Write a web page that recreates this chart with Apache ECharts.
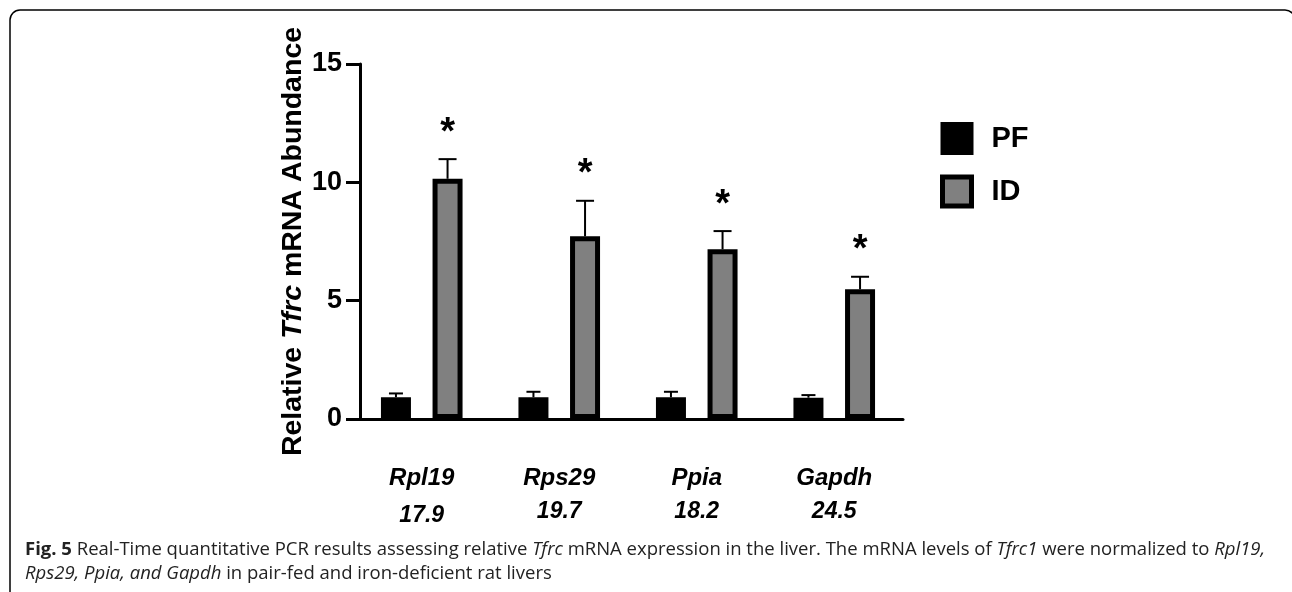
<!DOCTYPE html>
<html>
<head>
<meta charset="utf-8">
<script src="https://cdn.jsdelivr.net/npm/echarts@6/dist/echarts.min.js"></script>
<style>
html,body{margin:0;padding:0;background:#fff;}
#chart{width:1292px;height:592px;}
</style>
</head>
<body>
<div id="chart"></div>
<script>
// ---- data ----
const categories = ['Rpl19', 'Rps29', 'Ppia', 'Gapdh'];
const refCt = ['17.9', '19.7', '18.2', '24.5'];
const pfMean = [0.92, 0.92, 0.92, 0.90];
const pfSem = [0.16, 0.23, 0.23, 0.11];
const idMean = [10.15, 7.72, 7.17, 5.48];
const idSem = [0.83, 1.50, 0.77, 0.53];
const sigMarks = ['*', '*', '*', '*'];
const yTicks = [0, 5, 10, 15];
const seriesNames = ['PF', 'ID'];

// ---- style ----
const FONT = 'Liberation Sans, Arial, sans-serif';
const CAP_FONT = 'Open Sans, sans-serif';
const BAR_W = 30;
const BAR_GAP = 0.72;
const HALF = (BAR_W + BAR_W * BAR_GAP) / 2;

const chart = echarts.init(document.getElementById('chart'), null, {renderer: 'canvas'});

function errRender(offset, capW, marks) {
  return function (params, api) {
    const cat = api.value(0), mean = api.value(1), sem = api.value(2);
    const base = api.coord([cat, mean]);
    const top = api.coord([cat, mean + sem]);
    const x = base[0] + offset;
    const children = [
      {type: 'line', shape: {x1: x, y1: base[1], x2: x, y2: top[1]}, style: {stroke: '#000', lineWidth: 2}},
      {type: 'line', shape: {x1: x - capW / 2, y1: top[1], x2: x + capW / 2, y2: top[1]}, style: {stroke: '#000', lineWidth: 2}}
    ];
    if (marks) {
      children.push({type: 'text', x: x, y: top[1] - 26,
        style: {text: marks[params.dataIndex], fontSize: 38, fontWeight: 'bold', fontFamily: FONT,
                fill: '#000', align: 'center', verticalAlign: 'middle'}});
    }
    return {type: 'group', children: children};
  };
}

const option = {
  animation: false,
  backgroundColor: '#fff',
  grid: {left: 353, width: 550, top: 64, bottom: 173, containLabel: false},
  legend: {
    data: [
      {name: seriesNames[0], itemStyle: {color: '#000', borderColor: '#000', borderWidth: 4}},
      {name: seriesNames[1], itemStyle: {color: '#808080', borderColor: '#000', borderWidth: 5}}
    ],
    orient: 'vertical', left: 940, top: 122, padding: 0,
    icon: 'rect', itemWidth: 29, itemHeight: 29, itemGap: 19.5,
    textStyle: {fontFamily: FONT, fontSize: 29, fontWeight: 'bold', color: '#000', lineHeight: 29, padding: [0, 0, 0, 15]}
  },
  xAxis: {
    type: 'category', data: categories,
    axisLine: {lineStyle: {color: '#000', width: 3}},
    axisTick: {show: false},
    axisLabel: {
      margin: 44, interval: 0,
      formatter: function (v, i) { return '{n|' + v + '}\n{' + (i === 0 ? 'c0' : 'c') + '|' + refCt[i] + '}'; },
      rich: {
        n: {fontFamily: FONT, fontSize: 24, fontWeight: 'bold', fontStyle: 'italic', color: '#000', lineHeight: 30},
        c: {fontFamily: FONT, fontSize: 23, fontWeight: 'bold', fontStyle: 'italic', color: '#000', lineHeight: 30, padding: [8, 0, 0, 0]},
        c0: {fontFamily: FONT, fontSize: 23, fontWeight: 'bold', fontStyle: 'italic', color: '#000', lineHeight: 30, padding: [15, 0, 0, 0]}
      }
    }
  },
  yAxis: {
    type: 'value', min: yTicks[0], max: yTicks[yTicks.length - 1], interval: 5,
    offset: -7,
    splitLine: {show: false},
    axisLine: {show: true, lineStyle: {color: '#000', width: 3}},
    axisTick: {show: true, length: 14, lineStyle: {color: '#000', width: 3}},
    axisLabel: {margin: 18, fontFamily: FONT, fontSize: 27, fontWeight: 'bold', color: '#000'},
    name: '{a|Relative }{b|Tfrc}{a| mRNA Abundance}',
    nameLocation: 'middle', nameRotate: 90, nameGap: 52,
    nameTextStyle: {
      rich: {
        a: {fontFamily: FONT, fontSize: 28.5, fontWeight: 'bold', color: '#000'},
        b: {fontFamily: FONT, fontSize: 28.5, fontWeight: 'bold', fontStyle: 'italic', color: '#000'}
      }
    }
  },
  series: [
    {name: seriesNames[0], type: 'bar', data: pfMean, barWidth: BAR_W, barGap: (BAR_GAP * 100) + '%',
     itemStyle: {color: '#000', borderColor: '#000', borderWidth: 4}, z: 2},
    {name: seriesNames[1], type: 'bar', data: idMean, barWidth: BAR_W, barGap: (BAR_GAP * 100) + '%',
     itemStyle: {color: '#808080', borderColor: '#000', borderWidth: 5}, z: 2},
    {type: 'custom', name: 'PF err', renderItem: errRender(-HALF, 14, null),
     data: pfMean.map((m, i) => [i, m, pfSem[i]]), encode: {x: 0, y: 1}, z: 3},
    {type: 'custom', name: 'ID err', renderItem: errRender(HALF, 18, sigMarks),
     data: idMean.map((m, i) => [i, m, idSem[i]]), encode: {x: 0, y: 1}, z: 3}
  ],
  graphic: [
    {type: 'rect', shape: {x: 10, y: 10, width: 1285, height: 700, r: 10},
     style: {fill: 'none', stroke: '#000', lineWidth: 1.5}, silent: true},
    {type: 'text', left: 25, top: 540,
     style: {
       text: '{b|Fig. 5} Real-Time quantitative PCR results assessing relative {i|Tfrc} mRNA expression in the liver. The mRNA levels of {i|Tfrc1} were normalized to {i|Rpl19,}',
       fontFamily: CAP_FONT, fontSize: 18.5, fill: '#222',
       rich: {
         b: {fontFamily: CAP_FONT, fontSize: 18.5, fontWeight: 'bold', fill: '#222'},
         i: {fontFamily: CAP_FONT, fontSize: 18.5, fontStyle: 'italic', fill: '#222'}
       }
     }},
    {type: 'text', left: 25, top: 564,
     style: {
       text: '{i|Rps29, Ppia, and Gapdh} in pair-fed and iron-deficient rat livers',
       fontFamily: CAP_FONT, fontSize: 18.5, fill: '#222',
       rich: {
         i: {fontFamily: CAP_FONT, fontSize: 18.5, fontStyle: 'italic', fill: '#222'}
       }
     }}
  ]
};
chart.setOption(option);
</script>
</body>
</html>
